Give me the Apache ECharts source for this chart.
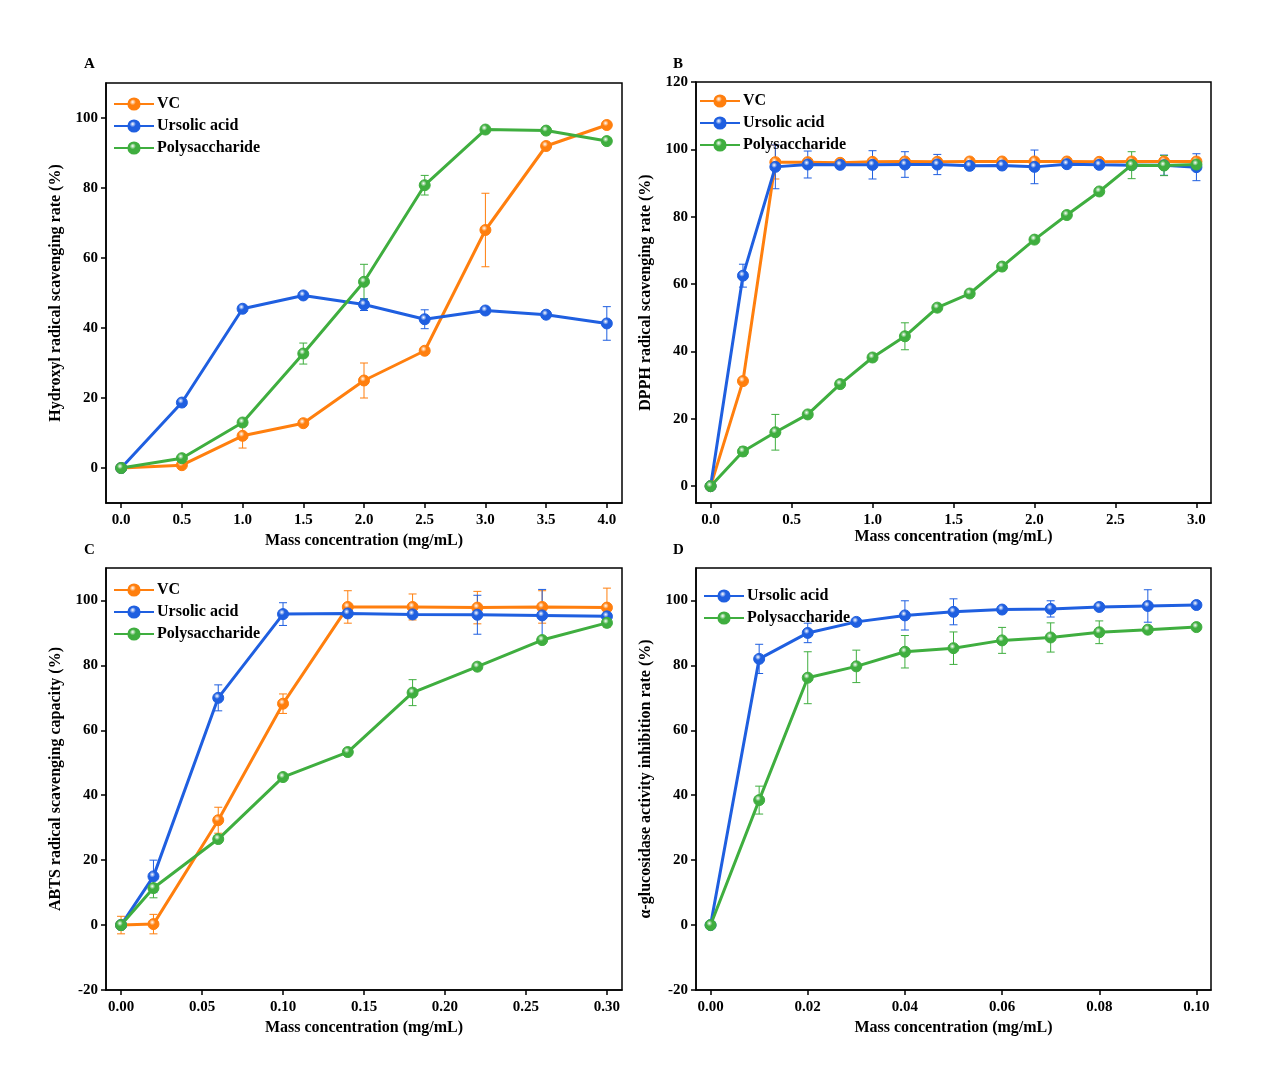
<!DOCTYPE html><html><head><meta charset="utf-8">
<script src="https://cdn.jsdelivr.net/npm/echarts@6/dist/echarts.min.js"></script>
<style>html,body{margin:0;background:#fff}#c{width:1269px;height:1086px}</style></head><body><div id="c"></div>
<script>
const xA=[0,0.5,1,1.5,2,2.5,3,3.5,4];
const aVC=[0,0.8,9.2,12.8,25,33.5,68,92,98], aVCe=[0,0,3.5,0,5,0,10.5,0,0];
const aUA=[0,18.7,45.5,49.3,46.7,42.5,45,43.8,41.3], aUAe=[0,1,0,0,1.7,2.7,0,0,4.8];
const aPS=[0,2.8,13,32.7,53.2,80.8,96.7,96.4,93.4], aPSe=[0,0,0,3,5,2.8,0,0,0];
const xB=[0,0.2,0.4,0.6,0.8,1.0,1.2,1.4,1.6,1.8,2.0,2.2,2.4,2.6,2.8,3.0];
const bVC=[0,31.2,96.2,96.2,96,96.3,96.4,96.3,96.4,96.4,96.4,96.4,96.3,96.4,96.4,96.4], bVCe=[0,0,5,0,0,0,0,0,0,0,0,0,0,0,0,0];
const bUA=[0,62.5,94.8,95.5,95.4,95.4,95.5,95.5,95.1,95.2,94.8,95.6,95.4,95.3,95.3,94.7], bUAe=[0,3.4,6.5,4,0,4.2,3.8,3,0,0,5,0,0,0,3,4];
const bPS=[0,10.3,16,21.3,30.3,38.2,44.5,53,57.2,65.2,73.2,80.5,87.5,95.3,95.2,95.5], bPSe=[0,1.3,5.3,0,0,0,4,0,0,0,0,0,0,4,3,0];
const xC=[0,0.02,0.06,0.10,0.14,0.18,0.22,0.26,0.30];
const cVC=[0,0.3,32.3,68.2,98,98,97.8,98,97.8], cVCe=[2.7,3,4,3,5,4,5,5,6];
const cUA=[0,15,70,95.8,96,95.7,95.6,95.4,95.1], cUAe=[0,5,4,3.5,0,0,6,8,0];
const cPS=[0,11.4,26.5,45.6,53.3,71.6,79.6,87.8,93.1], cPSe=[0,3,0,0,0,4,0,0,0];
const xD=[0,0.01,0.02,0.03,0.04,0.05,0.06,0.07,0.08,0.09,0.10];
const dUA=[0,82,90,93.4,95.4,96.5,97.2,97.4,98,98.3,98.6], dUAe=[0,4.5,3,0,4.5,4,0,2.5,0,5,0];
const dPS=[0,38.5,76.2,79.7,84.2,85.3,87.7,88.6,90.2,91,91.8], dPSe=[0,4.3,8,5,5,5,4,4.5,3.5,0,0];

const COL={'VC':'#ff7f0e','Ursolic acid':'#1f5fe0','Polysaccharide':'#3fae3f'};
const F='"Liberation Serif","Times New Roman",serif';
const grids=[{left:106,top:83,width:516,height:420},{left:696,top:82,width:515,height:421},{left:106,top:568,width:516,height:422},{left:696,top:568,width:515,height:422}]
 .map(g=>Object.assign(g,{show:true,borderColor:'#000',borderWidth:1.5,backgroundColor:'transparent'}));
function xax(i,min,max,ticks,dec,title,gap){return {type:'value',gridIndex:i,min,max,
 axisLine:{onZero:false,lineStyle:{color:'#000',width:1.5}},splitLine:{show:false},
 axisTick:{customValues:ticks,length:5,lineStyle:{color:'#000',width:1.5}},
 axisLabel:{customValues:ticks,formatter:v=>v.toFixed(dec),color:'#000',fontFamily:F,fontWeight:'bold',fontSize:15,margin:10},
 name:title,nameLocation:'middle',nameGap:gap,nameTextStyle:{color:'#000',fontFamily:F,fontWeight:'bold',fontSize:16}};}
function yax(i,min,max,ticks,title){return {type:'value',gridIndex:i,min,max,
 axisLine:{onZero:false,lineStyle:{color:'#000',width:1.5}},splitLine:{show:false},
 axisTick:{customValues:ticks,length:5,lineStyle:{color:'#000',width:1.5}},
 axisLabel:{customValues:ticks,color:'#000',fontFamily:F,fontWeight:'bold',fontSize:15,margin:8},
 name:title,nameLocation:'middle',nameGap:42,nameTextStyle:{color:'#000',fontFamily:F,fontWeight:'bold',fontSize:16}};}
const t20=[0,20,40,60,80,100];
const xAxis=[xax(0,-0.125,4.125,xA,1,'Mass concentration (mg/mL)',30),
 xax(1,-0.09,3.09,[0,0.5,1,1.5,2,2.5,3],1,'Mass concentration (mg/mL)',22),
 xax(2,-0.0093,0.3093,[0,0.05,0.1,0.15,0.2,0.25,0.3],2,'Mass concentration (mg/mL)',30),
 xax(3,-0.003,0.103,[0,0.02,0.04,0.06,0.08,0.1],2,'Mass concentration (mg/mL)',30)];
const yAxis=[yax(0,-10,110,t20,'Hydroxyl radical scavenging rate (%)'),
 yax(1,-5,120,[0,20,40,60,80,100,120],'DPPH radical scavenging rate (%)'),
 yax(2,-20,110,[-20].concat(t20),'ABTS radical scavenging capacity (%)'),
 yax(3,-20,110,[-20].concat(t20),'α-glucosidase activity inhibition rate (%)')];
const series=[];
function add(i,name,xs,ys,es){
 const c=COL[name];
 series.push({type:'custom',xAxisIndex:i,yAxisIndex:i,silent:true,z:1,
  data:xs.map((x,k)=>[x,ys[k],es[k]]),
  renderItem:(p,api)=>{const x=api.value(0),y=api.value(1),e=api.value(2);if(!e)return null;
   const t=api.coord([x,y+e]),b=api.coord([x,y-e]);const s={stroke:c,lineWidth:1};
   return {type:'group',children:[{type:'line',shape:{x1:t[0],y1:t[1],x2:b[0],y2:b[1]},style:s},
    {type:'line',shape:{x1:t[0]-4,y1:t[1],x2:t[0]+4,y2:t[1]},style:s},
    {type:'line',shape:{x1:b[0]-4,y1:b[1],x2:b[0]+4,y2:b[1]},style:s}]};}});
 series.push({type:'line',name,xAxisIndex:i,yAxisIndex:i,z:3,data:xs.map((x,k)=>[x,ys[k]]),
  symbol:'circle',symbolSize:11,lineStyle:{color:c,width:3},
  itemStyle:{color:{type:'radial',x:0.4,y:0.35,r:0.7,colorStops:[{offset:0,color:'#fff'},{offset:0.35,color:c},{offset:1,color:c}]},borderColor:c,borderWidth:1}});
}
add(0,'VC',xA,aVC,aVCe);add(0,'Ursolic acid',xA,aUA,aUAe);add(0,'Polysaccharide',xA,aPS,aPSe);
add(1,'VC',xB,bVC,bVCe);add(1,'Ursolic acid',xB,bUA,bUAe);add(1,'Polysaccharide',xB,bPS,bPSe);
add(2,'VC',xC,cVC,cVCe);add(2,'Ursolic acid',xC,cUA,cUAe);add(2,'Polysaccharide',xC,cPS,cPSe);
add(3,'Ursolic acid',xD,dUA,dUAe);add(3,'Polysaccharide',xD,dPS,dPSe);
function leg(l,t,d){return {left:l,top:t,orient:'vertical',itemGap:6,itemWidth:40,itemHeight:14,data:d,selectedMode:false,
 textStyle:{color:'#000',fontFamily:F,fontWeight:'bold',fontSize:16,padding:[0,0,0,-2]}};}
const all=['VC','Ursolic acid','Polysaccharide'];
const lab=(t,l,tp)=>({type:'text',left:l,top:tp,style:{text:t,font:'bold 15px '+F,fill:'#000'}});
echarts.init(document.getElementById('c')).setOption({animation:false,backgroundColor:'#fff',
 grid:grids,xAxis,yAxis,series,
 legend:[leg(108,91,all),leg(694,88,all),leg(108,577,all),leg(698,583,['Ursolic acid','Polysaccharide'])],
 graphic:[lab('A',84,57),lab('B',673,57),lab('C',84,543),lab('D',673,543)]});
</script></body></html>
